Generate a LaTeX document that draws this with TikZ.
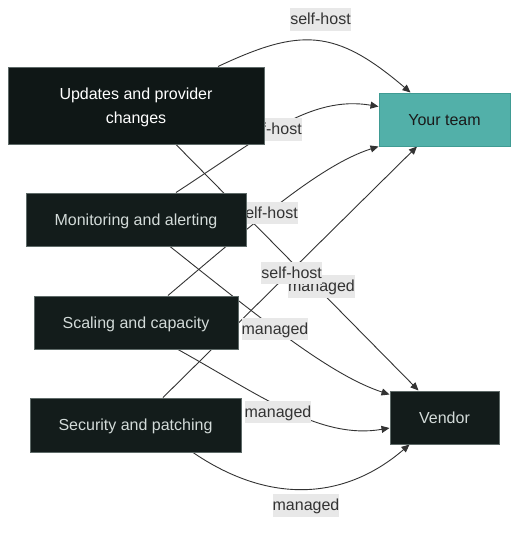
\documentclass[tikz,border=0pt]{standalone}
\usepackage{fontspec}
\setmainfont{Liberation Sans}
\usetikzlibrary{arrows.meta}
\pgfdeclarelayer{bg}
\pgfsetlayers{bg,main}
\definecolor{boxfill}{HTML}{131C1B}
\definecolor{boxfillA}{HTML}{0F1716}
\definecolor{boxborder}{HTML}{5E6A68}
\definecolor{boxtext}{HTML}{D3DBD9}
\definecolor{teamfill}{HTML}{52B0A9}
\definecolor{teamborder}{HTML}{3F9B93}
\definecolor{teamtext}{HTML}{1A1A1A}
\definecolor{edgec}{HTML}{333333}
\definecolor{labbg}{HTML}{E8E8E8}
\definecolor{labtxt}{HTML}{333333}
\begin{document}
\begin{tikzpicture}[x=1pt,y=-1pt,
  box/.style={draw=boxborder, fill=boxfill, text=boxtext, line width=1pt, inner sep=0pt,
    font=\fontsize{16}{24}\selectfont, align=center, text depth=0pt},
  teambox/.style={box, draw=teamborder, fill=teamfill, text=teamtext},
  conn/.style={draw=edgec, line width=0.9pt, -{Triangle[length=8pt,width=7pt]}},
  lab/.style={fill=labbg, text=labtxt, inner xsep=0pt, inner ysep=3.5pt, text height=13pt, text depth=2.5pt,
    font=\fontsize{16}{19}\selectfont}]
\useasboundingbox (0,0) rectangle (526,533);
% nodes
\node[box, fill=boxfillA, text=white, minimum width=256pt, minimum height=77pt] (upd) at (136,105.5) {Updates and provider\\changes};
\node[box, minimum width=220pt, minimum height=53pt] (mon) at (136,219.5) {Monitoring and alerting};
\node[box, minimum width=204pt, minimum height=53pt] (sca) at (136,322.5) {Scaling and capacity};
\node[box, minimum width=211pt, minimum height=54pt] (sec) at (135.5,425) {Security and patching};
\node[teambox, minimum width=131pt, minimum height=53pt] (team) at (444.5,119.5) {Your team};
\node[box, minimum width=109pt, minimum height=53pt] (vend) at (444.5,417.5) {Vendor};
\begin{pgfonlayer}{bg}
% connectors
\draw[conn] ([xshift=82pt]upd.north) .. controls (300,28) and (335,28) .. ([xshift=-34pt]team.north);
\draw[conn] ([xshift=40pt]mon.north) .. controls (260,138) and (310,95) .. ([yshift=13pt]team.west);
\draw[conn] ([xshift=32pt]sca.north) .. controls (250,226) and (320,165) .. (team.south west);
\draw[conn] ([xshift=27.5pt]sec.north) -- ([xshift=-27.5pt]team.south);
\draw[conn] ([xshift=40pt]upd.south) -- ([xshift=-26pt]vend.north);
\draw[conn] ([xshift=34pt]mon.south) .. controls (260,318) and (330,375) .. ([yshift=-4pt]vend.north west);
\draw[conn] ([xshift=42pt]sca.south) .. controls (260,395) and (320,440) .. ([yshift=-10.5pt]vend.west);
\draw[conn] ([xshift=57.5pt]sec.south) .. controls (270,505) and (345,500) .. ([xshift=-35pt]vend.south);
% labels
\node[lab] (l1) at (320.5,19.5) {self-host};
\node[lab] (l2) at (271.5,129.5) {self-host};
\node[lab] (l3) at (267.5,213) {self-host};
\node[lab] (l5) at (321.5,286.5) {managed};
\node[lab] (l4) at (291.7,273) {self-host};
\node[lab] (l6) at (275,329) {managed};
\node[lab] (l7) at (278,412) {managed};
\node[lab] (l8) at (306,505.5) {managed};
\end{pgfonlayer}
\end{tikzpicture}
\end{document}
